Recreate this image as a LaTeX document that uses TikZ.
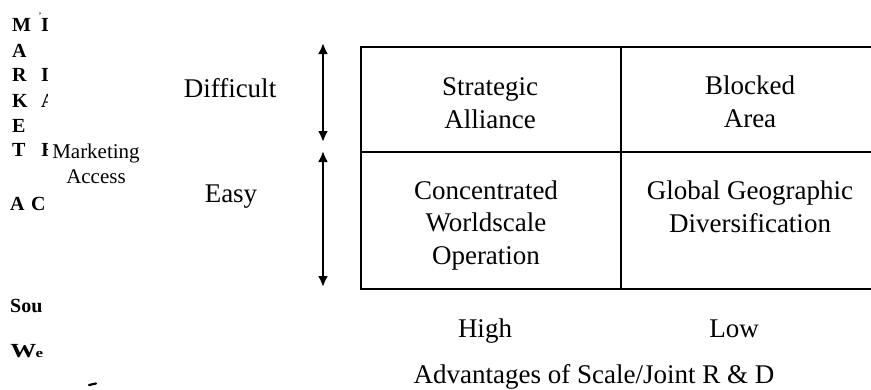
\documentclass[tikz,border=0pt]{standalone}
\usepackage{fontspec}
\setmainfont{Liberation Serif}
\usetikzlibrary{arrows.meta}
\begin{document}
\begin{tikzpicture}[x=1pt,y=-1pt,
  lbl/.style={font=\fontsize{27}{32.5}\selectfont, inner sep=0pt, align=center, anchor=base},
  side/.style={font=\fontsize{20}{22}\selectfont\bfseries, inner sep=0pt, anchor=base west},
  small/.style={font=\fontsize{21}{25}\selectfont, inner sep=0pt, align=center, anchor=base},
  gridline/.style={line width=1.5pt},
  span/.style={line width=2.4pt, {Latex[length=11pt,width=10pt]}-{Latex[length=11pt,width=10pt]}}]
\useasboundingbox (0,0) rectangle (871,389);
\clip (0,0) rectangle (871,389);

% vertical heading letters
\node[side] (m1) at (12,31) {M};
\node[side] (m2) at (12,57) {A};
\node[side] (m3) at (12,81) {R};
\node[side] (m4) at (12,107) {K};
\node[side] (m5) at (12,132) {E};
\node[side] (m6) at (12,156) {T};
\node[side] (c1) at (10,210) {A};
\node[side] (c2) at (31,210) {C};

% second column, cut off at its right
\begin{scope}
  \clip (41,0) rectangle (47.5,170);
  \node[side] (n1) at (41,31) {\makebox[5pt][l]{I}};
  \node[side] (n3) at (41,81) {\makebox[5pt][l]{I}};
  \node[side] (n4) at (41,107) {\makebox[5pt][l]{A}};
  \node[side] (n6) at (41,156) {\makebox[5pt][l]{I}};
\end{scope}
\coordinate (barA) at (45,149.5);
\coordinate (barB) at (48,149.5);
\draw[line width=1.6pt] (barA) -- (barB);
\node[font=\fontsize{10}{10}\selectfont, inner sep=0pt] (tick) at (40,16) {'};

\node[small] (access) at (96,183) {Marketing\\Access};

% footnote fragments
\node[side, font=\fontsize{20}{22}\selectfont\bfseries] (src) at (10,312) {Sou};
\begin{scope}
  \clip (0,330) rectangle (46,370);
  \node[side, font=\fontsize{20}{22}\selectfont\bfseries, xscale=1.3] (wk) at (10,357) {W\kern-0.5pt{\fontsize{13}{13}\selectfont e}};
\end{scope}
\coordinate (dashA) at (89,385);
\coordinate (dashB) at (96,383.5);
\draw[line width=2.2pt, line cap=round] (dashA) -- (dashB);

% row labels
\node[lbl] (diff) at (230,97) {Difficult};
\node[lbl] (easy) at (231,202) {Easy};

% range arrows
\coordinate (u1) at (323,43);
\coordinate (u2) at (323,142);
\coordinate (d1) at (323,151);
\coordinate (d2) at (323,287);
\draw[span] (u1) -- (u2);
\draw[span] (d1) -- (d2);

% grid
\coordinate (tl) at (361,47);
\coordinate (tm) at (621,47);
\coordinate (tr) at (885,47);
\coordinate (ml) at (361,152);
\coordinate (mr) at (885,152);
\coordinate (bl) at (361,289);
\coordinate (bm) at (621,289);
\coordinate (br) at (885,289);
\draw[gridline] (tr) -- (tl) -- (bl) -- (br);
\draw[gridline] (ml) -- (mr);
\draw[gridline] (tm) -- (bm);

% cell texts (anchored at the baseline of the last line)
\node[lbl] (sa) at (490,128) {Strategic\\Alliance};
\node[lbl] (ba) at (750,127) {Blocked\\Area};
\node[lbl] (cwo) at (486,264) {Concentrated\\Worldscale\\Operation};
\node[lbl] (ggd) at (750,232) {Global Geographic\\Diversification};

% column labels
\node[lbl] (high) at (485,337) {High};
\node[lbl] (low) at (734,337) {Low};
\node[lbl] (axis) at (594,383) {Advantages of Scale/Joint R \& D};
\end{tikzpicture}
\end{document}
